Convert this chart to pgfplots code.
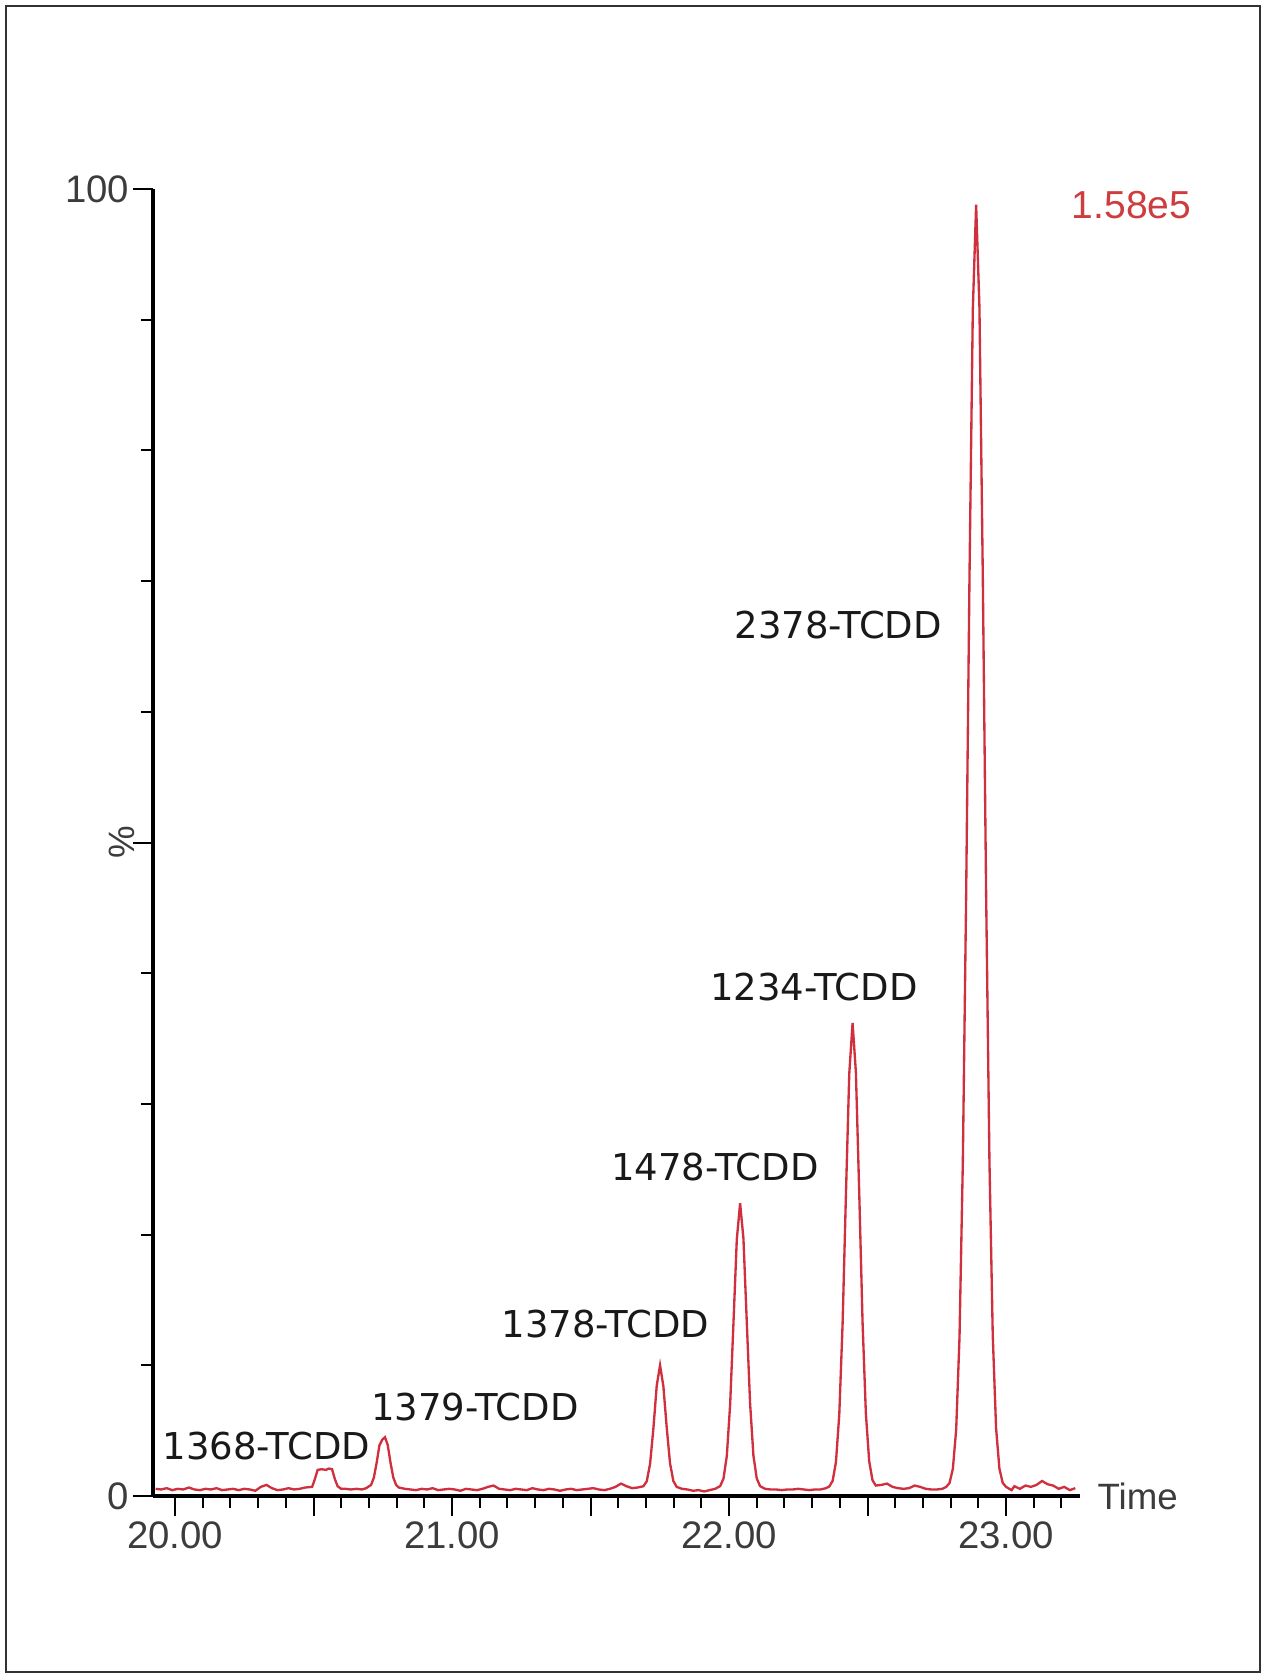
\documentclass[border=0pt]{standalone}
\usepackage{pgfplots}
\pgfplotsset{compat=1.18}
\usepackage{fontspec}
\setmainfont{Liberation Sans}
\newfontfamily\peakfont{DejaVu Sans}
\definecolor{trace}{RGB}{208,48,62}
\definecolor{scalered}{RGB}{205,60,62}
\definecolor{ticktext}{RGB}{60,60,60}
\definecolor{framegray}{RGB}{50,50,50}

\pgfplotstableread[row sep=\\]{
t y \\
19.930 0.55 \\ 19.950 0.50 \\ 19.970 0.60 \\ 19.990 0.45 \\ 20.010 0.55 \\
20.030 0.50 \\ 20.050 0.65 \\ 20.070 0.50 \\ 20.090 0.45 \\ 20.110 0.55 \\
20.130 0.50 \\ 20.150 0.60 \\ 20.170 0.45 \\ 20.190 0.50 \\ 20.210 0.55 \\
20.230 0.45 \\ 20.250 0.55 \\ 20.270 0.50 \\ 20.290 0.40 \\ 20.310 0.70 \\
20.330 0.85 \\ 20.350 0.60 \\ 20.370 0.45 \\ 20.390 0.50 \\ 20.410 0.60 \\
20.430 0.50 \\ 20.450 0.55 \\ 20.470 0.65 \\
20.495 0.70 \\ 20.505 1.30 \\ 20.515 2.00 \\ 20.530 2.05 \\ 20.545 2.00 \\
20.555 2.10 \\ 20.567 2.05 \\ 20.577 1.30 \\ 20.587 0.75 \\ 20.600 0.55 \\
20.615 0.55 \\ 20.635 0.50 \\ 20.655 0.55 \\ 20.675 0.50 \\ 20.690 0.60 \\
20.708 0.85 \\ 20.718 1.42 \\ 20.728 2.55 \\ 20.738 3.88 \\ 20.748 4.30 \\
20.758 4.50 \\ 20.768 3.90 \\ 20.778 2.55 \\ 20.788 1.42 \\ 20.798 0.85 \\
20.808 0.65 \\
20.830 0.55 \\ 20.850 0.50 \\ 20.870 0.45 \\ 20.890 0.55 \\ 20.910 0.50 \\
20.930 0.60 \\ 20.950 0.45 \\ 20.970 0.50 \\ 20.990 0.55 \\ 21.010 0.50 \\
21.030 0.40 \\ 21.050 0.55 \\ 21.070 0.50 \\ 21.090 0.45 \\ 21.110 0.55 \\
21.130 0.70 \\ 21.150 0.80 \\ 21.170 0.55 \\ 21.190 0.50 \\ 21.210 0.45 \\
21.230 0.55 \\ 21.250 0.50 \\ 21.270 0.45 \\ 21.290 0.60 \\ 21.310 0.50 \\
21.330 0.45 \\ 21.350 0.55 \\ 21.370 0.50 \\ 21.390 0.40 \\ 21.410 0.50 \\
21.430 0.55 \\ 21.450 0.45 \\ 21.470 0.50 \\ 21.490 0.55 \\ 21.510 0.60 \\
21.530 0.50 \\ 21.550 0.45 \\ 21.570 0.55 \\ 21.590 0.70 \\ 21.610 0.95 \\
21.630 0.75 \\ 21.650 0.60 \\ 21.670 0.65 \\
21.691 0.75 \\ 21.703 1.13 \\ 21.715 2.46 \\ 21.727 5.18 \\ 21.739 8.45 \\
21.751 10.00 \\ 21.763 8.40 \\ 21.775 5.25 \\ 21.787 2.50 \\ 21.799 1.15 \\
21.811 0.70 \\
21.830 0.55 \\ 21.850 0.50 \\ 21.870 0.40 \\ 21.890 0.45 \\ 21.910 0.35 \\
21.930 0.45 \\ 21.950 0.55 \\
21.968 0.76 \\ 21.980 1.33 \\ 21.992 3.07 \\ 22.004 7.00 \\ 22.016 13.25 \\
22.028 19.62 \\ 22.040 22.40 \\ 22.052 19.70 \\ 22.064 13.35 \\ 22.076 7.10 \\
22.088 3.10 \\ 22.100 1.35 \\ 22.112 0.76 \\
22.130 0.55 \\ 22.150 0.50 \\ 22.170 0.50 \\ 22.190 0.45 \\ 22.210 0.50 \\
22.230 0.50 \\ 22.250 0.55 \\ 22.270 0.50 \\ 22.290 0.45 \\ 22.310 0.50 \\
22.330 0.50 \\ 22.350 0.60 \\
22.362 0.73 \\ 22.374 1.16 \\ 22.386 2.60 \\ 22.398 6.24 \\ 22.410 13.20 \\
22.422 23.06 \\ 22.434 32.30 \\ 22.446 36.20 \\ 22.458 32.40 \\ 22.470 23.20 \\
22.482 13.30 \\ 22.494 6.30 \\ 22.506 2.65 \\ 22.518 1.20 \\ 22.530 0.80 \\
22.550 0.85 \\ 22.570 0.95 \\ 22.590 0.70 \\ 22.610 0.60 \\ 22.630 0.55 \\
22.650 0.60 \\ 22.670 0.80 \\ 22.690 0.70 \\ 22.710 0.55 \\ 22.730 0.50 \\
22.750 0.50 \\ 22.770 0.55 \\
22.784 0.70 \\ 22.796 1.00 \\ 22.808 2.08 \\ 22.820 5.10 \\ 22.832 12.15 \\
22.844 25.56 \\ 22.856 46.05 \\ 22.868 70.30 \\ 22.880 90.75 \\ 22.892 98.80 \\
22.904 90.90 \\ 22.916 70.50 \\ 22.928 46.20 \\ 22.940 25.70 \\ 22.952 12.30 \\
22.964 5.20 \\ 22.976 2.10 \\ 22.988 1.00 \\ 23.000 0.70 \\
23.020 0.45 \\ 23.030 0.75 \\ 23.050 0.55 \\ 23.070 0.80 \\ 23.090 0.70 \\
23.110 0.85 \\ 23.130 1.15 \\ 23.150 0.90 \\ 23.170 0.80 \\ 23.190 0.55 \\
23.210 0.70 \\ 23.230 0.45 \\ 23.250 0.60 \\
}\chrom

\begin{document}
\begin{tikzpicture}[x=1pt,y=1pt]
\useasboundingbox (0,0) rectangle (378.6,-502.2);
\draw[line width=0.75pt, framegray] (1.8,-1.8) rectangle (378.0,-501.6);

\begin{axis}[
    at={(45.9pt,-448.8pt)}, anchor=south west,
    scale only axis,
    width=278.1pt, height=392.1pt,
    xmin=19.9206, xmax=23.267,
    ymin=0, ymax=100,
    axis lines*=left,
    axis line style={line width=1.3pt, black},
    clip=false,
    tick align=outside,
    major tick length=6pt,
    minor tick length=3.5pt,
    every tick/.style={black, line width=0.6pt},
    xtick={20,20.5,21,21.5,22,22.5,23},
    xticklabels={20.00,,21.00,,22.00,,23.00},
    minor xtick={20.1,20.2,20.3,20.4,20.6,20.7,20.8,20.9,21.1,21.2,21.3,21.4,21.6,21.7,21.8,21.9,22.1,22.2,22.3,22.4,22.6,22.7,22.8,22.9,23.1,23.2},
    ytick={0,50,100},
    yticklabels={0,,100},
    minor ytick={10,20,30,40,60,70,80,90},
    tick label style={font=\fontsize{11.5}{13}\selectfont, text=ticktext},
    xticklabel style={inner sep=1.5pt},
    yticklabel style={inner sep=1pt},
]

\addplot[trace, line width=0.7pt] table[x=t, y=y] {\chrom};

\node[font=\peakfont\fontsize{11.1}{13}\selectfont, inner sep=0pt, text={rgb,255:red,25;green,25;blue,25}] at (axis cs:20.330,3.83) {1368-TCDD};
\node[font=\peakfont\fontsize{11.1}{13}\selectfont, inner sep=0pt, text={rgb,255:red,25;green,25;blue,25}] at (axis cs:21.083,6.81) {1379-TCDD};
\node[font=\peakfont\fontsize{11.1}{13}\selectfont, inner sep=0pt, text={rgb,255:red,25;green,25;blue,25}] at (axis cs:21.554,13.16) {1378-TCDD};
\node[font=\peakfont\fontsize{11.1}{13}\selectfont, inner sep=0pt, text={rgb,255:red,25;green,25;blue,25}] at (axis cs:21.949,25.17) {1478-TCDD};
\node[font=\peakfont\fontsize{11.1}{13}\selectfont, inner sep=0pt, text={rgb,255:red,25;green,25;blue,25}] at (axis cs:22.307,38.98) {1234-TCDD};
\node[font=\peakfont\fontsize{11.1}{13}\selectfont, inner sep=0pt, text={rgb,255:red,25;green,25;blue,25}] at (axis cs:22.394,66.67) {2378-TCDD};

\node[anchor=east, inner sep=0pt, text=scalered, font=\fontsize{11.7}{13}\selectfont] at (axis cs:23.671,98.78) {1.58e5};
\node[anchor=west, inner sep=0pt, text=ticktext, font=\fontsize{11}{13}\selectfont] at ([xshift=5.1pt]rel axis cs:1,0) {Time};
\node[rotate=90, anchor=south, inner sep=0pt, text=ticktext, font=\fontsize{11}{13}\selectfont] at ([xshift=-5.4pt]rel axis cs:0,0.5) {\%};

\end{axis}
\end{tikzpicture}
\end{document}
